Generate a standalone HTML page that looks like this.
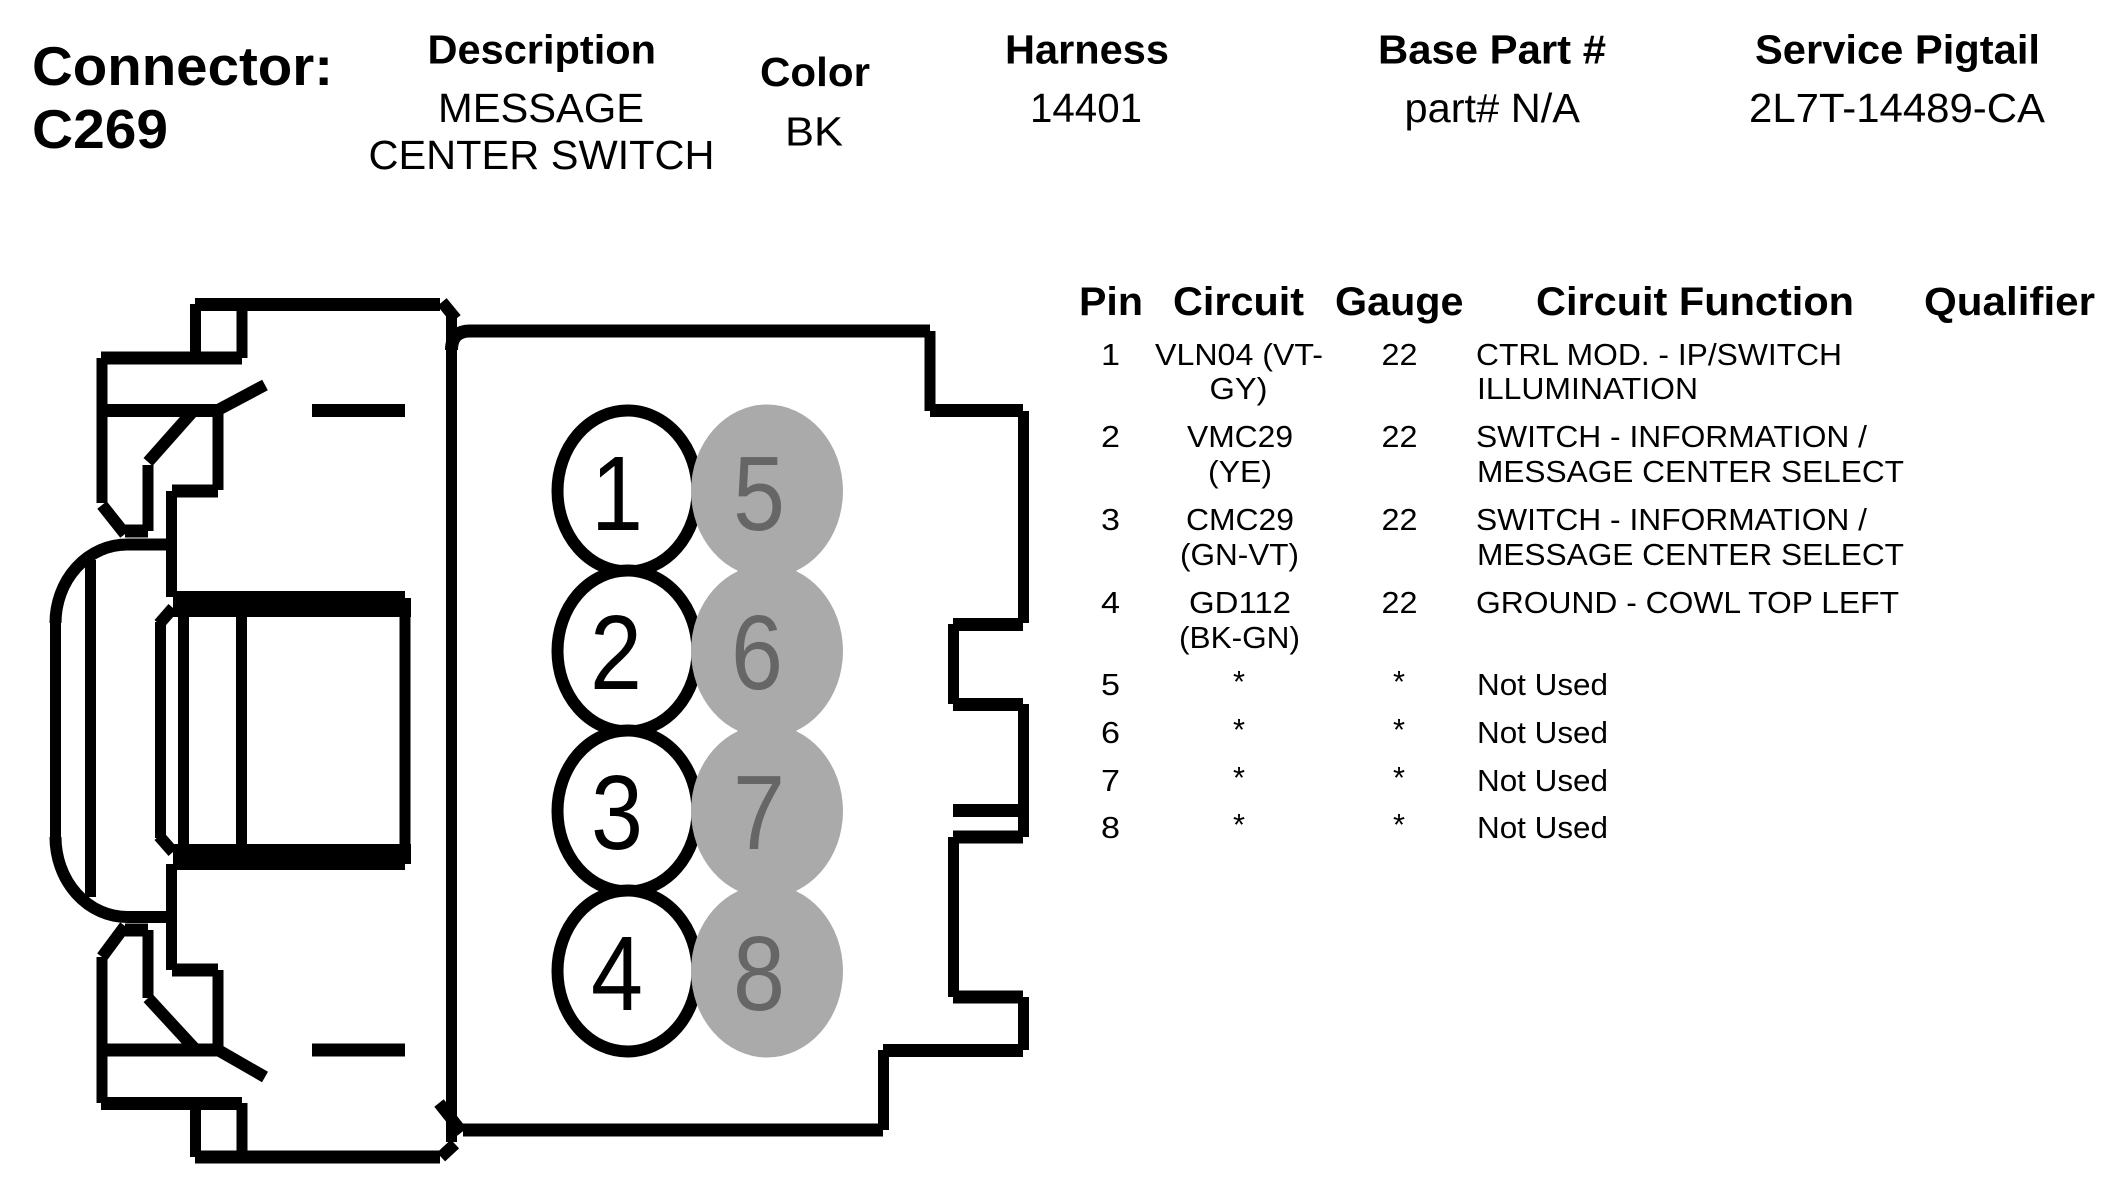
<!DOCTYPE html>
<html>
<head>
<meta charset="utf-8">
<title>Connector C269</title>
<style>
html,body{margin:0;padding:0;background:#fff;width:2124px;height:1196px;overflow:hidden}
svg{display:block}
text{font-family:"Liberation Sans",Arial,sans-serif;fill:#000}
.h{stroke:#000;stroke-width:13;fill:none}
.v{stroke:#000;stroke-width:11;fill:none}
.d{stroke:#000;stroke-width:12;fill:none}
</style>
</head>
<body>
<svg width="2124" height="1196" viewBox="0 0 2124 1196" xmlns="http://www.w3.org/2000/svg">
<rect width="2124" height="1196" fill="#fff"/>

<!-- connector left part, top -->
<g>
<line class="h" x1="195" y1="304.5" x2="440" y2="304.5"/>
<line class="v" x1="195.5" y1="304" x2="195.5" y2="358"/>
<line class="v" x1="242" y1="304" x2="242" y2="358"/>
<line class="h" x1="101" y1="358" x2="242" y2="358"/>
<line class="v" x1="102" y1="358" x2="102" y2="503"/>
<line class="h" x1="102" y1="410.5" x2="218" y2="410.5"/>
<line class="d" x1="218" y1="410" x2="265" y2="385"/>
<line class="h" x1="312" y1="410.5" x2="405" y2="410.5"/>
<line class="v" x1="218" y1="410" x2="218" y2="490"/>
<line class="h" x1="172" y1="491" x2="218" y2="491"/>
<line class="v" x1="171.5" y1="491" x2="171.5" y2="597"/>
<line class="d" x1="195" y1="409" x2="148" y2="462"/>
<line class="v" x1="148" y1="465" x2="148" y2="531"/>
<line class="h" x1="125" y1="531" x2="148" y2="531"/>
<line class="d" x1="102" y1="505" x2="125" y2="534"/>
<line class="v" x1="55.5" y1="620" x2="55.5" y2="840"/>
<path class="d" d="M55.5 623 A71.5 78.5 0 0 1 127 544.5 L167 544.5"/>
<line class="v" x1="90.5" y1="560" x2="90.5" y2="897"/>
<path class="d" d="M55.5 837 A71.5 80 0 0 0 127 917 L167 917"/>
<!-- inner block -->
<rect x="173" y="591" width="232" height="26" fill="#000"/>
<rect x="173" y="598" width="238" height="19" fill="#000"/>
<rect x="173" y="844" width="238" height="20" fill="#000"/>
<rect x="173" y="844" width="232" height="26" fill="#000"/>
<line class="v" x1="405" y1="598" x2="405" y2="863"/>
<line class="v" x1="183.5" y1="617" x2="183.5" y2="845"/>
<line class="v" x1="241.5" y1="617" x2="241.5" y2="845"/>
<line class="v" x1="160.5" y1="622" x2="160.5" y2="838"/>
<line class="d" x1="159" y1="624" x2="173" y2="608"/>
<line class="d" x1="159" y1="836" x2="173" y2="852"/>
<!-- bottom -->
<line class="v" x1="171.5" y1="864" x2="171.5" y2="970"/>
<line class="h" x1="172" y1="970" x2="218" y2="970"/>
<line class="v" x1="218" y1="970" x2="218" y2="1050"/>
<line class="h" x1="102" y1="1050" x2="218" y2="1050"/>
<line class="d" x1="218" y1="1050" x2="265" y2="1077"/>
<line class="h" x1="312" y1="1050" x2="405" y2="1050"/>
<line class="d" x1="195" y1="1049" x2="148" y2="998"/>
<line class="v" x1="148" y1="998" x2="148" y2="930"/>
<line class="h" x1="125" y1="930" x2="148" y2="930"/>
<line class="d" x1="125" y1="926" x2="102" y2="957"/>
<line class="v" x1="102" y1="957" x2="102" y2="1103"/>
<line class="h" x1="101" y1="1103.5" x2="242" y2="1103.5"/>
<line class="v" x1="195.5" y1="1103" x2="195.5" y2="1157"/>
<line class="v" x1="242" y1="1103" x2="242" y2="1157"/>
<line class="h" x1="195" y1="1157" x2="440" y2="1157"/>
<!-- divider -->
<line class="v" x1="451.5" y1="314" x2="451.5" y2="1142"/>
<line class="d" x1="442" y1="302" x2="456" y2="319"/>
<line class="d" x1="439" y1="1103" x2="462" y2="1132"/>
<line class="d" x1="441" y1="1157" x2="455" y2="1144"/>
</g>

<!-- connector right outline -->
<g>
<path class="h" d="M451.5 350 Q451.5 331 470 331 L930 331"/>
<line class="v" x1="930" y1="331" x2="930" y2="411"/>
<line class="h" x1="930" y1="410.5" x2="1023" y2="410.5"/>
<line class="v" x1="1023.5" y1="411" x2="1023.5" y2="623"/>
<line class="h" x1="953" y1="624.5" x2="1023" y2="624.5"/>
<line class="v" x1="953.5" y1="624" x2="953.5" y2="704"/>
<line class="h" x1="953" y1="704.5" x2="1023" y2="704.5"/>
<line class="v" x1="1023.5" y1="704" x2="1023.5" y2="837"/>
<line class="h" x1="953" y1="810.5" x2="1023" y2="810.5"/>
<line class="h" x1="953" y1="837" x2="1023" y2="837"/>
<line class="v" x1="953.5" y1="837" x2="953.5" y2="997"/>
<line class="h" x1="953" y1="997" x2="1023" y2="997"/>
<line class="v" x1="1023.5" y1="997" x2="1023.5" y2="1050"/>
<line class="h" x1="883" y1="1050.5" x2="1023" y2="1050.5"/>
<line class="v" x1="883.5" y1="1050" x2="883.5" y2="1130"/>
<line class="h" x1="463" y1="1130" x2="883" y2="1130"/>
</g>

<!-- pins -->
<g fill="#fff" stroke="#000" stroke-width="12">
<ellipse cx="627.5" cy="491" rx="70" ry="80.5"/>
<ellipse cx="627.5" cy="651" rx="70" ry="80.5"/>
<ellipse cx="627.5" cy="811" rx="70" ry="80.5"/>
<ellipse cx="627.5" cy="971" rx="70" ry="80.5"/>
</g>
<g fill="#aaa">
<ellipse cx="767" cy="491" rx="76" ry="86.5"/>
<ellipse cx="767" cy="651" rx="76" ry="86.5"/>
<ellipse cx="767" cy="811" rx="76" ry="86.5"/>
<ellipse cx="767" cy="971" rx="76" ry="86.5"/>
</g>
<g font-size="106">
<text x="591" y="530" textLength="52" lengthAdjust="spacingAndGlyphs">1</text>
<text x="590" y="689" textLength="52" lengthAdjust="spacingAndGlyphs">2</text>
<text x="591" y="849" textLength="52" lengthAdjust="spacingAndGlyphs">3</text>
<text x="591" y="1010" textLength="52" lengthAdjust="spacingAndGlyphs">4</text>
<text style="fill:#666" x="733" y="530" textLength="52" lengthAdjust="spacingAndGlyphs">5</text>
<text style="fill:#666" x="731" y="689" textLength="52" lengthAdjust="spacingAndGlyphs">6</text>
<text style="fill:#666" x="733" y="849" textLength="52" lengthAdjust="spacingAndGlyphs">7</text>
<text style="fill:#666" x="733" y="1010" textLength="52" lengthAdjust="spacingAndGlyphs">8</text>
</g>

<!-- header -->
<g font-weight="bold">
<text x="32" y="85" font-size="55" textLength="301" lengthAdjust="spacingAndGlyphs">Connector:</text>
<text x="32" y="148" font-size="55" textLength="136" lengthAdjust="spacingAndGlyphs">C269</text>
<g font-size="41">
<text x="427.5" y="63.5" textLength="228.5" lengthAdjust="spacingAndGlyphs">Description</text>
<text x="760" y="86" textLength="110" lengthAdjust="spacingAndGlyphs">Color</text>
<text x="1005" y="63.5" textLength="164" lengthAdjust="spacingAndGlyphs">Harness</text>
<text x="1378" y="63.5" textLength="228" lengthAdjust="spacingAndGlyphs">Base Part #</text>
<text x="1755" y="63.5" textLength="285" lengthAdjust="spacingAndGlyphs">Service Pigtail</text>
</g>
<g font-size="40">
<text x="1079" y="315" textLength="64" lengthAdjust="spacingAndGlyphs">Pin</text>
<text x="1173" y="315" textLength="131" lengthAdjust="spacingAndGlyphs">Circuit</text>
<text x="1335" y="315" textLength="128.5" lengthAdjust="spacingAndGlyphs">Gauge</text>
<text x="1536" y="315" textLength="318" lengthAdjust="spacingAndGlyphs">Circuit Function</text>
<text x="1924" y="315" textLength="171" lengthAdjust="spacingAndGlyphs">Qualifier</text>
</g>
</g>
<g font-size="41">
<text x="438" y="122" textLength="206" lengthAdjust="spacingAndGlyphs">MESSAGE</text>
<text x="368.5" y="169" textLength="346" lengthAdjust="spacingAndGlyphs">CENTER SWITCH</text>
<text x="785" y="145.5" textLength="58" lengthAdjust="spacingAndGlyphs">BK</text>
<text x="1030" y="122" textLength="112" lengthAdjust="spacingAndGlyphs">14401</text>
<text x="1404.5" y="122" textLength="175.5" lengthAdjust="spacingAndGlyphs">part# N/A</text>
<text x="1749" y="122" textLength="296" lengthAdjust="spacingAndGlyphs">2L7T-14489-CA</text>
</g>

<!-- table -->
<g font-size="31">
<text x="1101" y="365" textLength="19" lengthAdjust="spacingAndGlyphs">1</text>
<text x="1101" y="447" textLength="19" lengthAdjust="spacingAndGlyphs">2</text>
<text x="1101" y="530" textLength="19" lengthAdjust="spacingAndGlyphs">3</text>
<text x="1101" y="613" textLength="19" lengthAdjust="spacingAndGlyphs">4</text>
<text x="1101" y="695" textLength="19" lengthAdjust="spacingAndGlyphs">5</text>
<text x="1101" y="743" textLength="19" lengthAdjust="spacingAndGlyphs">6</text>
<text x="1101" y="791" textLength="19" lengthAdjust="spacingAndGlyphs">7</text>
<text x="1101" y="838" textLength="19" lengthAdjust="spacingAndGlyphs">8</text>

<text x="1155" y="365" textLength="168" lengthAdjust="spacingAndGlyphs">VLN04 (VT-</text>
<text x="1209.5" y="399" textLength="58" lengthAdjust="spacingAndGlyphs">GY)</text>
<text x="1187" y="447" textLength="106" lengthAdjust="spacingAndGlyphs">VMC29</text>
<text x="1208" y="482" textLength="64" lengthAdjust="spacingAndGlyphs">(YE)</text>
<text x="1186" y="530" textLength="108" lengthAdjust="spacingAndGlyphs">CMC29</text>
<text x="1180" y="565" textLength="119" lengthAdjust="spacingAndGlyphs">(GN-VT)</text>
<text x="1189" y="613" textLength="102" lengthAdjust="spacingAndGlyphs">GD112</text>
<text x="1179" y="648" textLength="121" lengthAdjust="spacingAndGlyphs">(BK-GN)</text>
<text x="1233" y="692" textLength="12" lengthAdjust="spacingAndGlyphs">*</text>
<text x="1233" y="740" textLength="12" lengthAdjust="spacingAndGlyphs">*</text>
<text x="1233" y="788" textLength="12" lengthAdjust="spacingAndGlyphs">*</text>
<text x="1233" y="835" textLength="12" lengthAdjust="spacingAndGlyphs">*</text>

<text x="1381.5" y="365" textLength="36" lengthAdjust="spacingAndGlyphs">22</text>
<text x="1381.5" y="447" textLength="36" lengthAdjust="spacingAndGlyphs">22</text>
<text x="1381.5" y="530" textLength="36" lengthAdjust="spacingAndGlyphs">22</text>
<text x="1381.5" y="613" textLength="36" lengthAdjust="spacingAndGlyphs">22</text>
<text x="1393" y="692" textLength="12" lengthAdjust="spacingAndGlyphs">*</text>
<text x="1393" y="740" textLength="12" lengthAdjust="spacingAndGlyphs">*</text>
<text x="1393" y="788" textLength="12" lengthAdjust="spacingAndGlyphs">*</text>
<text x="1393" y="835" textLength="12" lengthAdjust="spacingAndGlyphs">*</text>

<text x="1476" y="365" textLength="366" lengthAdjust="spacingAndGlyphs">CTRL MOD. - IP/SWITCH</text>
<text x="1477" y="399" textLength="221" lengthAdjust="spacingAndGlyphs">ILLUMINATION</text>
<text x="1476" y="447" textLength="391" lengthAdjust="spacingAndGlyphs">SWITCH - INFORMATION /</text>
<text x="1477" y="482" textLength="427" lengthAdjust="spacingAndGlyphs">MESSAGE CENTER SELECT</text>
<text x="1476" y="530" textLength="391" lengthAdjust="spacingAndGlyphs">SWITCH - INFORMATION /</text>
<text x="1477" y="565" textLength="427" lengthAdjust="spacingAndGlyphs">MESSAGE CENTER SELECT</text>
<text x="1476" y="613" textLength="423" lengthAdjust="spacingAndGlyphs">GROUND - COWL TOP LEFT</text>
<text x="1477" y="695" textLength="131" lengthAdjust="spacingAndGlyphs">Not Used</text>
<text x="1477" y="743" textLength="131" lengthAdjust="spacingAndGlyphs">Not Used</text>
<text x="1477" y="791" textLength="131" lengthAdjust="spacingAndGlyphs">Not Used</text>
<text x="1477" y="838" textLength="131" lengthAdjust="spacingAndGlyphs">Not Used</text>
</g>
</svg>
</body>
</html>
